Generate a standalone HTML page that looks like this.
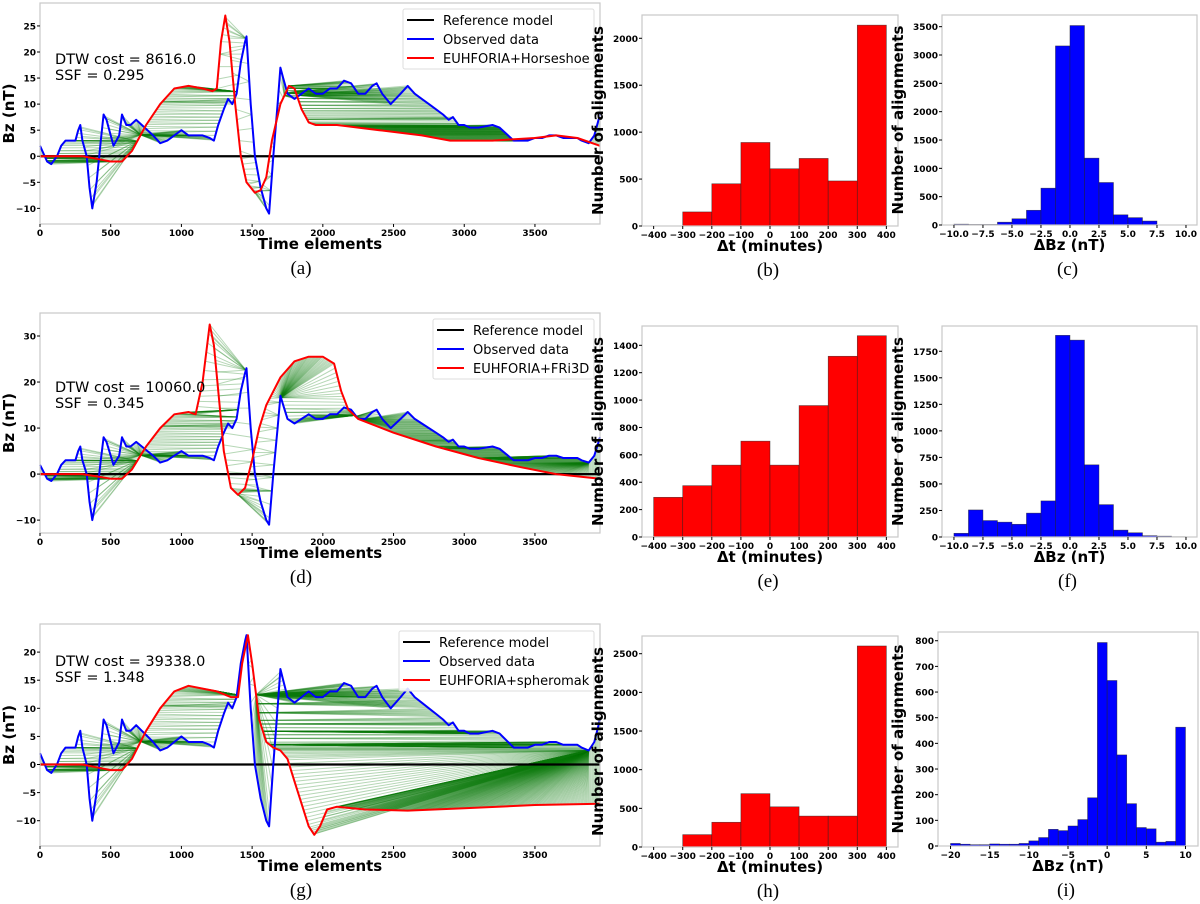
<!DOCTYPE html>
<html><head><meta charset="utf-8"><style>
html,body{margin:0;padding:0;background:#fff}
svg{display:block}
text{font-family:"DejaVu Sans","Liberation Sans",sans-serif}
.tk{font-size:9px;font-weight:bold;fill:#000}
.at{font-size:15px;font-weight:bold;fill:#000}
.cap{font-family:"Liberation Serif",serif;font-size:19px;fill:#000}
.lg{font-size:13px;fill:#000}
.ann{font-size:14.5px;fill:#000}
</style></head><body>
<svg id="fig" width="1200" height="904" viewBox="0 0 1200 904" xmlns="http://www.w3.org/2000/svg"></svg>
<script>
// ---------- data ----------
const obsT=[0,50,80,120,150,180,250,270,285,300,330,350,370,400,430,450,470,500,520,560,580,610,640,680,720,760,800,850,900,950,1000,1050,1100,1150,1200,1230,1260,1300,1330,1360,1390,1420,1450,1460,1490,1520,1560,1600,1620,1650,1680,1700,1720,1750,1800,1850,1900,1950,2000,2050,2100,2150,2200,2250,2300,2350,2380,2420,2480,2550,2600,2650,2700,2750,2800,2850,2890,2920,2960,3000,3040,3100,3200,3250,3350,3400,3450,3500,3550,3600,3650,3700,3800,3830,3880,3920,3960];
const obsB=[2,-1,-1.5,0,2,3,3,5,6,3,0,-6,-10,-5,3,8,7,4,2,4,8,6,6,7,6,5,4,2.5,3,4,5,4,4,4,3.5,3,6,9,11,10,12,18,22,23,10,0,-6,-10,-11,0,10,17,15,12,11,12,13,12,12,13,13,14.5,14,12,12,13.5,14,12,10,12,13.5,12,11,10,9,8,7,7.5,6,6,5.5,5.5,6,5.5,3,3,3,3.5,3.5,4,4,3.5,3.5,3,2.5,4,8];
const hsT=[0,300,400,500,580,650,750,850,950,1050,1150,1220,1250,1280,1310,1340,1380,1420,1460,1520,1560,1600,1640,1700,1760,1800,1850,1900,1950,2100,2400,2700,2900,3200,3500,3650,3800,3960];
const hsB=[0,0,-0.5,-1,-1,1,6,10,13,13.5,13,12.5,13,22,27,22,10,0,-5,-7,-6.5,-4,3,10,13.5,13,9,6.5,6,6,5,4,3,3,3.5,4,3.5,2];
const frT=[0,300,400,500,580,650,750,850,950,1050,1100,1150,1200,1230,1270,1300,1350,1400,1450,1500,1550,1600,1700,1800,1900,2000,2080,2130,2180,2250,2500,2800,3100,3400,3650,3960];
const frB=[0,0,-0.5,-1,-1,1,6,10,13,13.5,13,20,32.5,28,15,5,-3,-4.5,-3,3,10,15,21,24.5,25.5,25.5,24,18,14,12,9,6,3.5,1.5,0,-1];
const spT=[0,300,400,500,580,650,750,850,950,1050,1150,1250,1350,1400,1430,1470,1500,1550,1600,1650,1700,1750,1800,1850,1900,1940,1980,2030,2100,2300,2600,3000,3500,3960];
const spB=[0,0,-0.5,-1,-1,1,6,10,13,14,13.5,13,12,12,18,23,18,8,4,3,2.5,1,-3,-7,-11,-12.5,-11,-8,-7.5,-8,-8.2,-7.8,-7.2,-7];
const dtEdges=[-400,-300,-200,-100,0,100,200,300];
const dtCountsB=[0,150,450,890,610,720,480,2140];
const dtCountsE=[290,375,525,700,525,960,1320,1470];
const dtCountsH=[0,160,320,690,520,400,400,2600];
const bzEdgesCF=[-10,-8.75,-7.5,-6.25,-5,-3.75,-2.5,-1.25,0,1.25,2.5,3.75,5,6.25,7.5,8.75];
const bzCountsC=[15,10,10,50,110,260,650,3160,3520,1180,750,180,130,70,0,0];
const bzCountsF=[35,255,155,140,120,225,340,1900,1855,680,305,65,40,12,8,3];
const bzEdgesI=[-20,-18.75,-17.5,-16.25,-15,-13.75,-12.5,-11.25,-10,-8.75,-7.5,-6.25,-5,-3.75,-2.5,-1.25,0,1.25,2.5,3.75,5,6.25,7.5,8.75];
const bzCountsI=[10,7,5,5,8,7,7,10,20,33,65,60,78,103,188,793,645,355,165,72,67,15,18,463];
const tsXTicks=[0,500,1000,1500,2000,2500,3000,3500];
const dtXTicks=[-400,-300,-200,-100,0,100,200,300,400];
const bzXTicksCF=[-10,-7.5,-5,-2.5,0,2.5,5,7.5,10];
const bzXTicksI=[-20,-15,-10,-5,0,5,10];

// ---------- helpers ----------
const NS='http://www.w3.org/2000/svg';
const svg=document.getElementById('fig');
function mk(tag,attrs,parent){const e=document.createElementNS(NS,tag);for(const k in attrs)e.setAttribute(k,attrs[k]);(parent||svg).appendChild(e);return e;}
function fmt(v,dec){let s=dec?v.toFixed(1):String(v);return s.replace('-','\u2212');}
function scale(d0,d1,r0,r1){return v=>r0+(v-d0)*(r1-r0)/(d1-d0);}

function frame(g,x0,y0,x1,y1){
  const r=mk('rect',{x:x0,y:y0,width:x1-x0,height:y1-y0,fill:'none',stroke:'#c8c8c8','stroke-width':1.2},g);
  
  
}
function xTicks(g,ticks,sx,y1,dec){
  ticks.forEach(v=>{
    const l=mk('line',{x1:sx(v),x2:sx(v),y1:y1,y2:y1+3,stroke:'#000','stroke-width':1},g);
    
    
    const t=mk('text',{x:sx(v),y:y1+12,'text-anchor':'middle',class:'tk'},g);
    t.textContent=fmt(v,dec);
    
    
  });
}
function yTicks(g,ticks,sy,x0){
  ticks.forEach(v=>{
    const l=mk('line',{x1:x0-3,x2:x0,y1:sy(v),y2:sy(v),stroke:'#000','stroke-width':1},g);
    
    
    const t=mk('text',{x:x0-4,y:sy(v)+3.5,'text-anchor':'end',class:'tk'},g);
    t.textContent=fmt(v,false);
    
    
  });
}
function label(g,txt,x,y,cls,rot,name){
  const t=mk('text',{x:x,y:y,'text-anchor':'middle',class:cls},g);
  if(rot)t.setAttribute('transform','rotate(-90 '+x+' '+y+')');
  t.textContent=txt;
  
  
}
function resample(T,B,step){const out=[];let k=0;for(let t=0;t<=T[T.length-1];t+=step){while(k<T.length-2&&T[k+1]<t)k++;const f=(t-T[k])/(T[k+1]-T[k]);out.push([t,B[k]+(B[k+1]-B[k])*Math.max(0,Math.min(1,f))]);}return out;}
function dtw(a,b){
  const n=a.length,m=b.length,C=new Float64Array(n*m);
  for(let i=0;i<n;i++)for(let j=0;j<m;j++){
    const d=Math.abs(a[i][1]-b[j][1]);let best;
    if(i===0&&j===0)best=0;else if(i===0)best=C[j-1];else if(j===0)best=C[(i-1)*m];
    else best=Math.min(C[(i-1)*m+j],C[i*m+j-1],C[(i-1)*m+j-1]);
    C[i*m+j]=d+best;}
  const path=[];let i=n-1,j=m-1;path.push([i,j]);
  while(i>0||j>0){
    if(i===0)j--;else if(j===0)i--;else{
      const a1=C[(i-1)*m+j-1],a2=C[(i-1)*m+j],a3=C[i*m+j-1];
      if(a1<=a2&&a1<=a3){i--;j--;}else if(a2<=a3)i--;else j--;}
    path.push([i,j]);}
  return path;
}

function tsPanel(p){
  const g=mk('g',{});
  
  
  const sx=scale(0,3960,40,600), sy=scale(p.ymin,p.ymax,p.y1,p.y0);
  const a=resample(obsT,obsB,8), b=resample(p.mT,p.mB,8);
  const path=dtw(a,b);
  const ag=mk('g',{stroke:'#0c7a0c','stroke-width':1,'stroke-opacity':0.3},g);
  
  
  path.forEach(([i,j])=>{
    mk('line',{x1:sx(a[i][0]).toFixed(1),y1:sy(a[i][1]).toFixed(1),x2:sx(b[j][0]).toFixed(1),y2:sy(b[j][1]).toFixed(1)},ag);
  });
  const ref=mk('line',{x1:40,x2:600,y1:sy(0),y2:sy(0),stroke:'#000','stroke-width':2.2},g);
  
  
  const ob=mk('polyline',{points:obsT.map((t,k)=>sx(t).toFixed(1)+','+sy(obsB[k]).toFixed(1)).join(' '),fill:'none',stroke:'#0000ff','stroke-width':2,'stroke-linejoin':'round'},g);
  
  
  const md=mk('polyline',{points:p.mT.map((t,k)=>sx(t).toFixed(1)+','+sy(p.mB[k]).toFixed(1)).join(' '),fill:'none',stroke:'#ff0000','stroke-width':2,'stroke-linejoin':'round'},g);
  
  
  frame(g,40,p.y0,600,p.y1);
  xTicks(g,tsXTicks,sx,p.y1,false);
  yTicks(g,p.yt,sy,40);
  label(g,'Time elements',320,p.y1+25,'at',false,'x-axis-title');
  label(g,'Bz (nT)',14,(p.y0+p.y1)/2,'at',true,'y-axis-title');
  label(g,p.cap,301,p.y1+50,'cap',false,'panel-caption');
  const t1=mk('text',{x:55,y:p.ann,class:'ann'},g);t1.textContent=p.cost;
  
  
  const t2=mk('text',{x:55,y:p.ann+16,class:'ann'},g);t2.textContent=p.ssf;
  
  
  const lg=mk('g',{},g);
  
  
  mk('rect',{x:p.lx,y:p.ly,width:594-p.lx,height:60,fill:'#fff','fill-opacity':0.85,stroke:'#ddd',rx:2},lg);
  [['#000','Reference model'],['#0000ff','Observed data'],['#ff0000',p.model]].forEach((e,k)=>{
    const yy=p.ly+11+k*19;
    const ll=mk('line',{x1:p.lx+4,x2:p.lx+31,y1:yy,y2:yy,stroke:e[0],'stroke-width':2},lg);
    
    
    const tt=mk('text',{x:p.lx+40,y:yy+5,class:'lg'},lg);tt.textContent=e[1];
    
    
  });
}

function histPanel(p){
  const g=mk('g',{});
  
  
  const sx=scale(p.xmin,p.xmax,p.x0,p.x1), sy=scale(0,p.ymax,p.y1,p.y0);
  p.edges.forEach((e,k)=>{
    const v=p.counts[k]; if(v<=0)return;
    const r=mk('rect',{x:sx(e),y:sy(v),width:sx(e+p.w)-sx(e),height:sy(0)-sy(v),fill:p.color,stroke:'#222','stroke-width':0.6,'stroke-opacity':0.7},g);
    
    
  });
  frame(g,p.x0,p.y0,p.x1,p.y1);
  xTicks(g,p.xt,sx,p.y1,p.dec);
  yTicks(g,p.yt,sy,p.x0);
  label(g,p.xl,(p.x0+p.x1)/2,p.y1+25,'at',false,'x-axis-title');
  label(g,'Number of alignments',p.ylx,(p.y0+p.y1)/2,'at',true,'y-axis-title');
  label(g,p.cap,(p.x0+p.x1)/2-2,p.y1+50,'cap',false,'panel-caption');
}

// ---------- panels ----------
tsPanel({name:'panel-a-horseshoe',y0:3,y1:224,ymin:-13,ymax:29.4,yt:[-10,-5,0,5,10,15,20,25],mT:hsT,mB:hsB,model:'EUHFORIA+Horseshoe',cap:'(a)',cost:'DTW cost = 8616.0',ssf:'SSF = 0.295',ann:64,lx:403,ly:9});
tsPanel({name:'panel-d-fri3d',y0:313,y1:533,ymin:-12.8,ymax:35,yt:[-10,0,10,20,30],mT:frT,mB:frB,model:'EUHFORIA+FRi3D',cap:'(d)',cost:'DTW cost = 10060.0',ssf:'SSF = 0.345',ann:392,lx:433,ly:319});
tsPanel({name:'panel-g-spheromak',y0:624,y1:846,ymin:-14.5,ymax:25,yt:[-10,-5,0,5,10,15,20],mT:spT,mB:spB,model:'EUHFORIA+spheromak',cap:'(g)',cost:'DTW cost = 39338.0',ssf:'SSF = 1.348',ann:666,lx:399,ly:631});

histPanel({name:'panel-b-dt-hist',x0:642,x1:898,y0:15,y1:226,xmin:-440,xmax:440,ymax:2248,edges:dtEdges,w:100,counts:dtCountsB,color:'#ff0000',xt:dtXTicks,yt:[0,500,1000,1500,2000],xl:'\u0394t (minutes)',ylx:603,cap:'(b)'});
histPanel({name:'panel-e-dt-hist',x0:642,x1:898,y0:326,y1:537,xmin:-440,xmax:440,ymax:1541,edges:dtEdges,w:100,counts:dtCountsE,color:'#ff0000',xt:dtXTicks,yt:[0,200,400,600,800,1000,1200,1400],xl:'\u0394t (minutes)',ylx:603,cap:'(e)'});
histPanel({name:'panel-h-dt-hist',x0:642,x1:898,y0:636,y1:847,xmin:-440,xmax:440,ymax:2729,edges:dtEdges,w:100,counts:dtCountsH,color:'#ff0000',xt:dtXTicks,yt:[0,500,1000,1500,2000,2500],xl:'\u0394t (minutes)',ylx:603,cap:'(h)'});
histPanel({name:'panel-c-dbz-hist',x0:942,x1:1197,y0:15,y1:225,xmin:-11.03,xmax:10.95,ymax:3706,edges:bzEdgesCF,w:1.25,counts:bzCountsC,color:'#0000ff',xt:bzXTicksCF,dec:true,yt:[0,500,1000,1500,2000,2500,3000,3500],xl:'\u0394Bz (nT)',ylx:903,cap:'(c)'});
histPanel({name:'panel-f-dbz-hist',x0:942,x1:1197,y0:326,y1:537,xmin:-11.03,xmax:10.95,ymax:1988,edges:bzEdgesCF,w:1.25,counts:bzCountsF,color:'#0000ff',xt:bzXTicksCF,dec:true,yt:[0,250,500,750,1000,1250,1500,1750],xl:'\u0394Bz (nT)',ylx:903,cap:'(f)'});
histPanel({name:'panel-i-dbz-hist',x0:938,x1:1198,y0:632,y1:846,xmin:-21.6,xmax:11.6,ymax:834,edges:bzEdgesI,w:1.25,counts:bzCountsI,color:'#0000ff',xt:bzXTicksI,yt:[0,100,200,300,400,500,600,700,800],xl:'\u0394Bz (nT)',ylx:903,cap:'(i)'});
</script>
</body></html>
